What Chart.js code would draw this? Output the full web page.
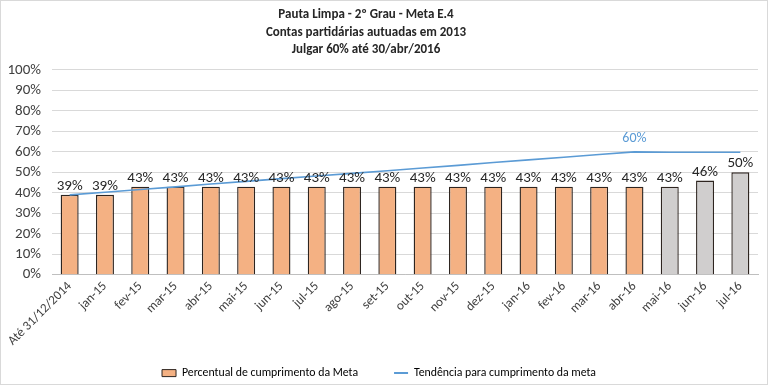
<!DOCTYPE html>
<html>
<head>
<meta charset="utf-8">
<script src="https://cdn.jsdelivr.net/npm/chart.js@4/dist/chart.umd.min.js"></script>
<style>
  html, body { margin: 0; padding: 0; background: #fff; }
  #wrap { position: relative; width: 768px; height: 385px; }
  #frame { position: absolute; left: 0; top: 0; width: 768px; height: 385px; box-sizing: border-box; border: 1px solid #d9d9d9; pointer-events: none; }
  canvas { display: block; }
</style>
</head>
<body>
<div id="wrap">
  <canvas id="c" width="768" height="385"></canvas>
  <div id="frame"></div>
</div>
<script>
// ---- data ----
const titleLines = ['Pauta Limpa - 2º Grau - Meta E.4', 'Contas partidárias autuadas em 2013', 'Julgar 60% até 30/abr/2016'];
const categories = ['Até 31/12/2014', 'jan-15', 'fev-15', 'mar-15', 'abr-15', 'mai-15', 'jun-15', 'jul-15', 'ago-15', 'set-15', 'out-15', 'nov-15', 'dez-15', 'jan-16', 'fev-16', 'mar-16', 'abr-16', 'mai-16', 'jun-16', 'jul-16'];
const cumprimento = [39, 39, 43, 43, 43, 43, 43, 43, 43, 43, 43, 43, 43, 43, 43, 43, 43, 43, 46, 50];
const tendencia = [39, 40.3, 41.6, 42.9, 44.3, 45.6, 46.9, 48.2, 49.5, 50.8, 52.1, 53.4, 54.8, 56.1, 57.4, 58.7, 60, 59.8, 59.8, 59.8];
const projectedFrom = 17; // mai-16 onwards shown in gray
const trendLabelIndex = 16;
const yTicks = [0, 10, 20, 30, 40, 50, 60, 70, 80, 90, 100];
const seriesNames = ['Percentual de cumprimento da Meta', 'Tendência para cumprimento da meta'];

const ORANGE = '#F4B183';
const GRAY = '#D0CECE';
const BAR_BORDER = '#2e2520';
const BLUE = '#5B9BD5';
const FONT = 'Carlito, Lato, sans-serif';

const labelPlugin = {
  id: 'valueLabels',
  afterDatasetsDraw(chart) {
    const ctx = chart.ctx;
    ctx.save();
    ctx.textAlign = 'center';
    ctx.textBaseline = 'alphabetic';
    const barMeta = chart.getDatasetMeta(0);
    ctx.font = '15px ' + FONT;
    ctx.fillStyle = '#262626';
    barMeta.data.forEach((el, i) => {
      ctx.fillText(Math.round(cumprimento[i]) + '%', el.x, el.y - 5);
    });
    const lineMeta = chart.getDatasetMeta(1);
    const p = lineMeta.data[trendLabelIndex];
    ctx.fillStyle = BLUE;
    ctx.font = '14px ' + FONT;
    ctx.fillText(Math.round(tendencia[trendLabelIndex]) + '%', p.x, p.y - 10);
    ctx.restore();
  }
};

const layoutTweaks = {
  id: 'layoutTweaks',
  afterLayout(chart) {
    if (chart.titleBlock) chart.titleBlock.right = chart.titleBlock.right - 26;
    // let the rotated category labels extend below the axis box without being clipped
    if (chart.scales.x) chart.scales.x.bottom = chart.height;
  }
};

new Chart(document.getElementById('c'), {
  data: {
    labels: categories,
    datasets: [
      {
        type: 'bar',
        label: seriesNames[0],
        data: cumprimento,
        backgroundColor: (c) => c.dataIndex >= projectedFrom ? GRAY : ORANGE,
        borderColor: BAR_BORDER,
        borderWidth: 1.4,
        categoryPercentage: 1,
        barPercentage: 0.51,
        order: 2
      },
      {
        type: 'line',
        label: seriesNames[1],
        data: tendencia,
        borderColor: BLUE,
        borderWidth: 1.6,
        pointRadius: 0,
        tension: 0,
        fill: false,
        order: 1
      }
    ]
  },
  options: {
    responsive: false,
    animation: false,
    layout: { padding: { top: 0, left: 0, right: 10, bottom: -4 } },
    plugins: {
      tooltip: { enabled: false },
      title: {
        display: true,
        text: titleLines,
        color: '#262626',
        font: { family: FONT, size: 13, weight: 'bold', lineHeight: 1.35 },
        padding: { top: 6, bottom: 11.3 }
      },
      legend: {
        position: 'bottom',
        labels: {
          usePointStyle: true,
          pointStyleWidth: 14,
          boxHeight: 7,
          padding: 36,
          color: '#404040',
          font: { family: FONT, size: 11.8 },
          generateLabels: () => [
            { text: seriesNames[0], fillStyle: ORANGE, strokeStyle: BAR_BORDER, lineWidth: 1, pointStyle: 'rect', datasetIndex: 0, hidden: false },
            { text: seriesNames[1], fillStyle: BLUE, strokeStyle: BLUE, lineWidth: 2, pointStyle: 'line', datasetIndex: 1, hidden: false }
          ]
        }
      }
    },
    scales: {
      x: {
        offset: true,
        grid: { display: false, drawTicks: false },
        border: { display: true, color: '#BFBFBF', width: 1 },
        ticks: {
          autoSkip: false,
          minRotation: 45,
          maxRotation: 45,
          padding: 4,
          color: '#404040',
          font: { family: FONT, size: 13 }
        },
        afterFit(scale) { scale.height = 56.5; }
      },
      y: {
        min: 0,
        max: 100,
        afterBuildTicks(scale) { scale.ticks = yTicks.map(v => ({ value: v })); },
        grid: { color: '#D9D9D9', drawTicks: false },
        border: { display: false },
        ticks: {
          autoSkip: false,
          padding: 11,
          color: '#404040',
          font: { family: FONT, size: 15 },
          callback: (v) => v + '%'
        },
        afterFit(scale) { scale.width = 52; }
      }
    }
  },
  plugins: [labelPlugin, layoutTweaks]
});
</script>
</body>
</html>
